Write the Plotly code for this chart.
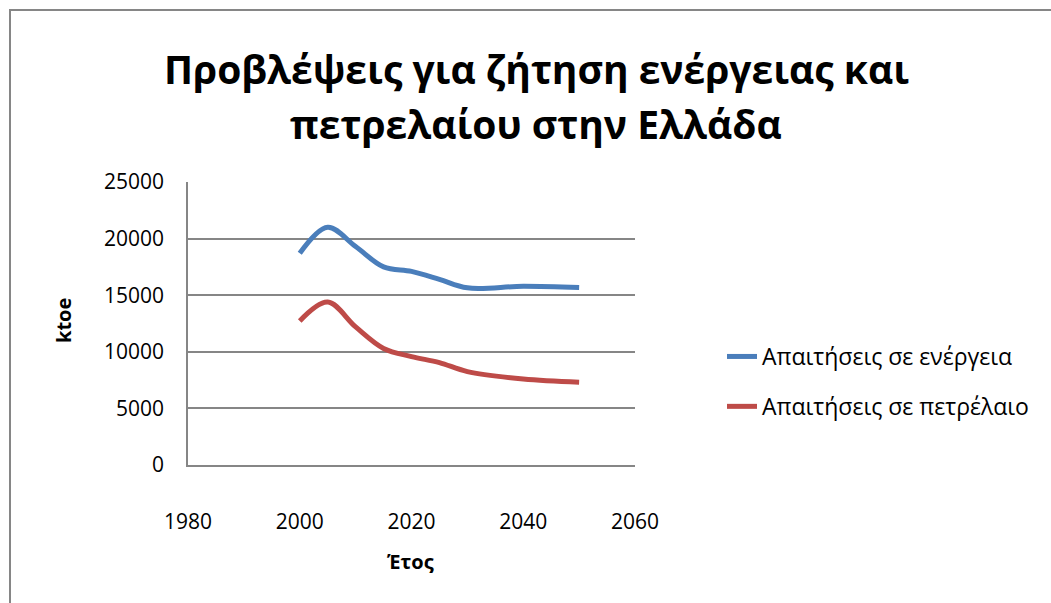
import plotly.graph_objects as go

years_energy = [2000, 2005, 2010, 2015, 2020, 2025, 2030, 2040, 2050]
energy = [18700, 21000, 19300, 17500, 17100, 16400, 15650, 15780, 15670]
years_oil = [2000, 2005, 2010, 2015, 2020, 2025, 2030, 2040, 2050]
oil = [12730, 14400, 12200, 10300, 9580, 9050, 8250, 7600, 7320]

x_ticks = [1980, 2000, 2020, 2040, 2060]
y_ticks = [0, 5000, 10000, 15000, 20000, 25000]

title_lines = ["Προβλέψεις για ζήτηση ενέργειας και", "πετρελαίου στην Ελλάδα"]

FONT = "Open Sans"
W, H = 1051, 603
L, R, T, B = 188, 635, 182, 465
pw, ph = R - L, B - T

def px(x):
    return (x - L) / pw

def py(y):
    return (B - y) / ph

fig = go.Figure()
fig.add_trace(go.Scatter(x=years_energy, y=energy, mode="lines",
                         name="Απαιτήσεις σε ενέργεια", legendgroup="a",
                         line=dict(color="#4A7EBB", width=5, shape="spline", smoothing=1)))
fig.add_trace(go.Scatter(x=years_oil, y=oil, mode="lines",
                         name="Απαιτήσεις σε πετρέλαιο", legendgroup="b",
                         line=dict(color="#BE4B48", width=5, shape="spline", smoothing=1)))

fig.update_layout(
    width=W, height=H,
    margin=dict(l=L, r=W - R, t=T, b=H - B),
    paper_bgcolor="white", plot_bgcolor="white",
    font=dict(family=FONT, color="black", size=20),
    showlegend=True,
    legend=dict(x=px(722), y=py(335), xanchor="left", yanchor="top",
                font=dict(size=23, family=FONT), traceorder="grouped",
                tracegroupgap=17, bgcolor="rgba(0,0,0,0)"),
    xaxis=dict(range=[1980, 2060], tickvals=x_ticks, ticktext=[str(v) for v in x_ticks],
               showgrid=False, showline=True, linecolor="#868686", linewidth=1.5,
               zeroline=False, ticks="", ticklabelstandoff=37,
               tickfont=dict(size=21, family=FONT)),
    yaxis=dict(range=[0, 25000], tickvals=y_ticks, ticktext=[str(v) for v in y_ticks],
               showgrid=True, gridcolor="#868686", gridwidth=1.5,
               showline=True, linecolor="#868686", linewidth=1.5,
               zeroline=False, ticks="", ticklabelstandoff=18,
               tickfont=dict(size=21, family=FONT)),
    annotations=[
        dict(text="<b>%s</b>" % title_lines[0], x=px(536), y=py(68), xref="paper", yref="paper",
             showarrow=False, xanchor="center", yanchor="middle", font=dict(size=39, family=FONT)),
        dict(text="<b>%s</b>" % title_lines[1], x=px(536), y=py(123), xref="paper", yref="paper",
             showarrow=False, xanchor="center", yanchor="middle", font=dict(size=39, family=FONT)),
        dict(text="<b>ktoe</b>", x=px(63), y=py(321), xref="paper", yref="paper",
             showarrow=False, textangle=-90, xanchor="center", yanchor="middle",
             font=dict(size=20, family=FONT)),
        dict(text="<b>Έτος</b>", x=px(410), y=py(561), xref="paper", yref="paper",
             showarrow=False, xanchor="center", yanchor="middle",
             font=dict(size=20, family=FONT)),
    ],
    shapes=[dict(type="rect", xref="paper", yref="paper",
                 x0=px(10), x1=px(1060), y0=py(610), y1=py(10),
                 line=dict(color="#868686", width=2), layer="below")],
)

fig.write_html("out.html")
